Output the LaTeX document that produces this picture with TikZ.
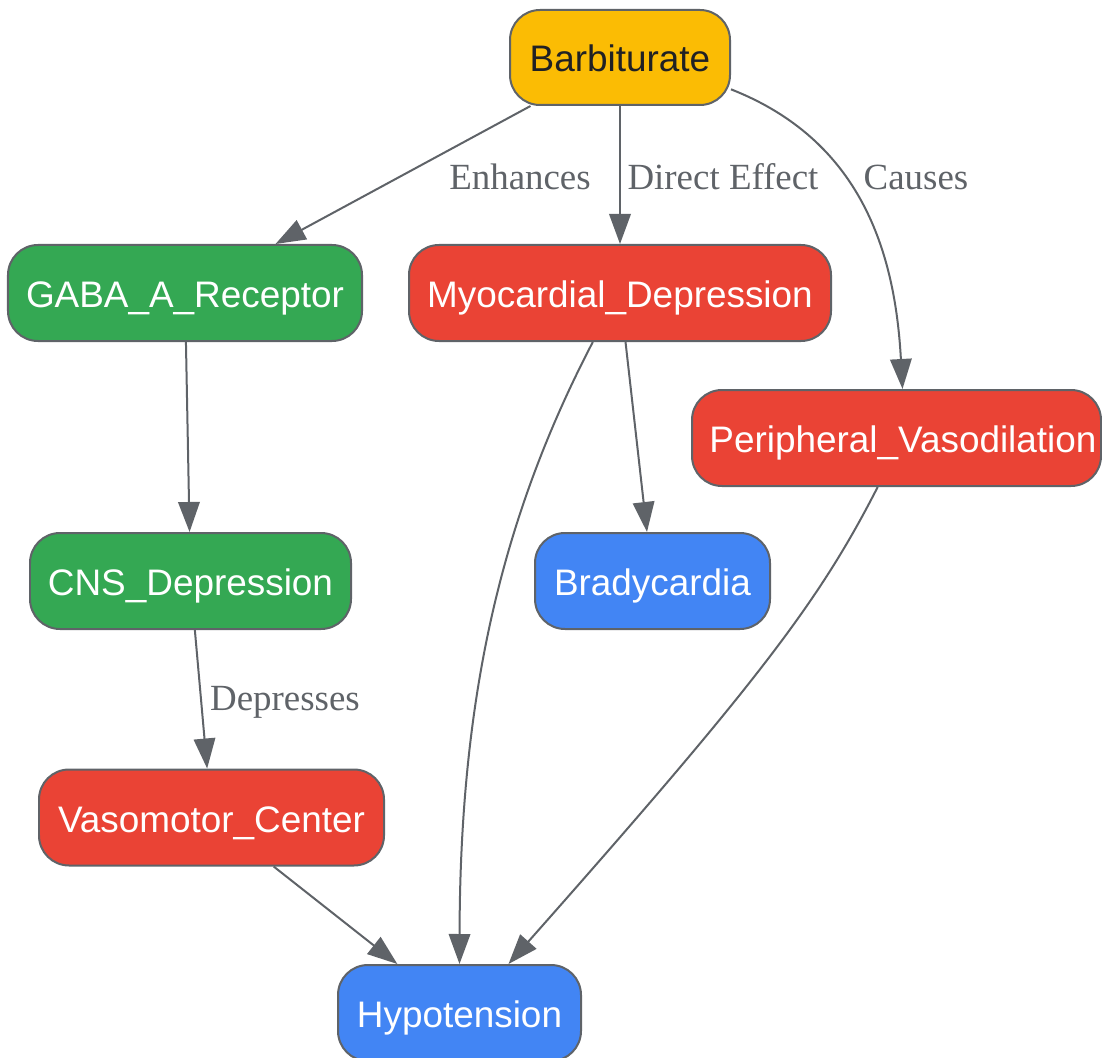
\documentclass[tikz,border=0pt]{standalone}
\usepackage{fontspec}
\setmainfont{Liberation Sans}
\newfontfamily\lblfont{Liberation Serif}
\usetikzlibrary{arrows.meta,calc}
\definecolor{cyel}{HTML}{FBBC04}
\definecolor{cgrn}{HTML}{34A853}
\definecolor{cred}{HTML}{EA4335}
\definecolor{cblu}{HTML}{4285F4}
\definecolor{cedge}{HTML}{5F6368}
\definecolor{ctxt}{HTML}{202124}
\tikzset{
  box/.style={draw=cedge, line width=0.04cm, rounded corners=0.6cm, minimum height=1.92cm,
    inner sep=0pt, text height=0.7cm, text depth=0.12cm,
    font=\fontsize{21}{25}\selectfont, text=white},
  conn/.style={draw=cedge, line width=0.04cm, -{Triangle[length=0.6cm,width=0.43cm]}},
  lbl/.style={text=cedge, font=\lblfont\fontsize{21}{25}\selectfont, inner sep=0pt}
}
\begin{document}
\begin{tikzpicture}
\useasboundingbox (0,0) rectangle (22.04,-21.16);
\node[box, fill=cyel, text=ctxt, minimum width=4.4cm, minimum height=1.9cm] (barb) at (12.4,-1.15) {Barbiturate};
\node[box, fill=cgrn, minimum width=7.08cm] (gaba) at (3.7,-5.86) {GABA\_A\_Receptor};
\node[box, fill=cred, minimum width=8.44cm] (myo) at (12.4,-5.86) {Myocardial\_Depression};
\node[box, fill=cred, minimum width=8.18cm] (peri) at (17.93,-8.76) {\hspace{0.26cm}Peripheral\_Vasodilation};
\node[box, fill=cgrn, minimum width=6.42cm] (cns) at (3.81,-11.62) {CNS\_Depression};
\node[box, fill=cblu, minimum width=4.7cm] (brady) at (13.05,-11.62) {Bradycardia};
\node[box, fill=cred, minimum width=6.9cm] (vaso) at (4.23,-16.35) {Vasomotor\_Center};
\node[box, fill=cblu, minimum width=4.86cm] (hypo) at (9.19,-20.26) {Hypotension};

\draw[conn] (barb) -- (gaba);
\draw[conn] (barb) -- (myo);
\draw[conn] (barb.-16) .. controls (17.2,-2.8) and (17.9,-5.0) .. (peri.83.5);
\draw[conn] (gaba) -- (cns);
\draw[conn] (myo) -- (brady);
\draw[conn] (myo.-119) .. controls (10.0,-10.4) and (9.2,-14.0) .. (hypo.north);
\draw[conn] (peri.-111) .. controls (16.4,-12.0) and (15.2,-13.6) .. (hypo.45);
\draw[conn] (cns) -- (vaso);
\draw[conn] (vaso) -- (hypo);

\node[lbl] (l1) at (10.4,-3.54) {Enhances};
\node[lbl] (l2) at (14.46,-3.54) {Direct Effect};
\node[lbl] (l3) at (18.32,-3.54) {Causes};
\node[lbl] (l4) at (5.7,-14.04) {Depresses};
\end{tikzpicture}
\end{document}
